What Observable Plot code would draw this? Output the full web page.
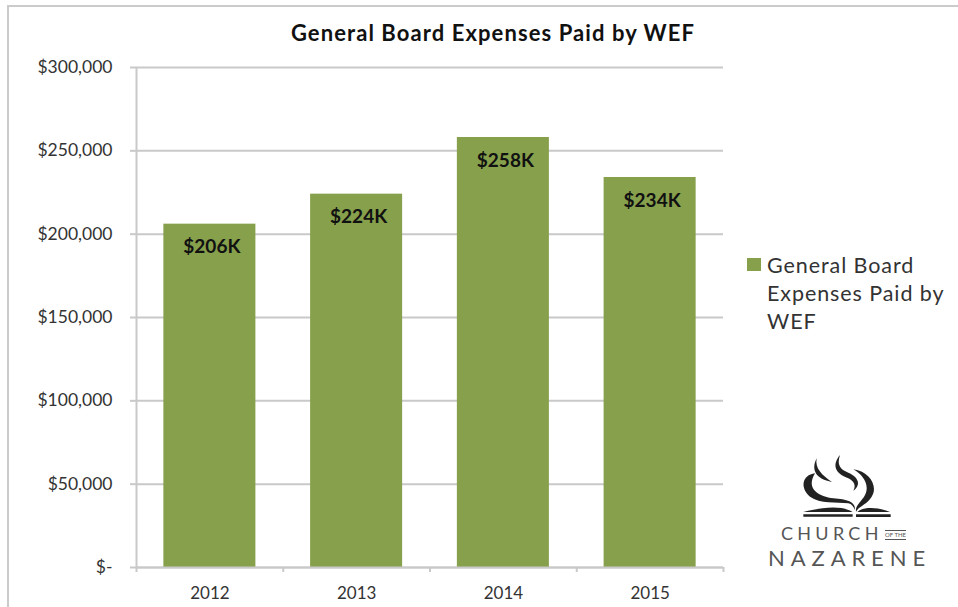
<!DOCTYPE html>
<html>
<head>
<meta charset="utf-8">
<script src="https://cdn.jsdelivr.net/npm/d3@7"></script>
<script src="https://cdn.jsdelivr.net/npm/@observablehq/plot@0.6"></script>
<style>
  html, body { margin: 0; padding: 0; background: #fff; }
  #page { position: relative; width: 958px; height: 607px; overflow: hidden; font-family: Lato, sans-serif; color: #333; }
  #frame { position: absolute; left: 7px; top: 5px; width: 960px; height: 620px; border: 2px solid #cbcbcb; box-sizing: border-box; }
  #title { position: relative; height: 50px; line-height: 66px; text-align: center; padding-left: 28px; font-weight: 700; font-size: 22px; letter-spacing: 1.08px; color: #111; box-sizing: border-box; }
  #chart { position: relative; }
  #chart svg { display: block; }
  #legend { position: absolute; left: 747px; top: 251px; width: 200px; }
  #legend .sw { position: absolute; left: 0; top: 7px; width: 14px; height: 13px; background: #86a04c; }
  #legend .tx { position: absolute; left: 20px; top: 0; font-size: 21.5px; line-height: 28px; letter-spacing: .92px; white-space: nowrap; }
  #logo { position: absolute; left: 720px; top: 430px; width: 238px; height: 177px; }
  #logo svg { position: absolute; left: 0; top: 0; }
  .l1 { position: absolute; left: 61px; top: 94px; font-size: 18px; line-height: 18px; letter-spacing: 4.3px; color: #555; white-space: nowrap; }
  .l0 { position: absolute; left: 165px; top: 100px; font-size: 6px; line-height: 8px; color: #555; white-space: nowrap; border-bottom: 1px solid #555; border-top: 1px solid #555; }
  .l2 { position: absolute; left: 48px; top: 116px; font-size: 22px; line-height: 24px; letter-spacing: 5.9px; color: #555; white-space: nowrap; }
</style>
</head>
<body>
<div id="page">
  <div id="frame"></div>
  <div id="title"></div>
  <div id="chart"></div>
  <div id="legend"><div class="sw"></div><div class="tx"></div></div>
  <div id="logo">
    <svg width="238" height="177" viewBox="0 0 714 531">
      <g fill="#222">
        <path d="M290 85C272 120 288 148 336 156C306 136 284 115 290 85Z"/>
        <path d="M360 75C335 105 345 130 385 145C400 153 410 165 400 182C425 165 415 140 385 128C360 118 350 105 360 75Z"/>
        <path d="M285 130C245 135 240 175 270 200C300 222 350 215 385 220C395 222 400 230 405 240C407 215 380 208 340 205C300 200 255 180 285 130Z"/>
        <path d="M400 118C450 125 475 170 455 200C440 225 420 225 408 245C405 225 425 215 435 195C450 165 430 135 400 118Z"/>
        <path d="M250 246C290 236 360 222 398 246Z"/>
        <path d="M412 246C430 228 480 232 510 246Z"/>
        <path d="M250 253H398V260H250Z"/>
        <path d="M408 253H512V261H408Z"/>
      </g>
    </svg>
    <div class="l1">CHURCH</div>
    <div class="l0">OF THE</div>
    <div class="l2">NAZARENE</div>
  </div>
</div>
<script>
const titleText = "General Board Expenses Paid by WEF";
const legendLines = ["General Board", "Expenses Paid by", "WEF"];
const years = ["2012", "2013", "2014", "2015"];
const expenses = [206000, 224000, 258000, 234000];
const labels = ["$206K", "$224K", "$258K", "$234K"];
const yTicks = [0, 50000, 100000, 150000, 200000, 250000, 300000];

document.getElementById("title").textContent = titleText;
document.querySelector("#legend .tx").innerHTML = legendLines.join("<br>");

const rows = years.map((year, i) => ({year, value: expenses[i], label: labels[i]}));
const grey = "#c9c9c9";
const W = 958, H = 557, mL = 136, mR = 235, mT = 17, mB = 40;
const halfStep = (W - mL - mR) / years.length / 2;
const fmt = d3.format("$,");

const chart = Plot.plot({
  width: W,
  height: H,
  marginLeft: mL,
  marginRight: mR,
  marginTop: mT,
  marginBottom: mB,
  style: {background: "transparent", fontFamily: "Lato, sans-serif", overflow: "visible"},
  x: {domain: years, paddingInner: 0.373, paddingOuter: 0.1865, round: false, label: null},
  y: {domain: [0, 300000], label: null},
  marks: [
    Plot.gridY(yTicks, {stroke: grey, strokeOpacity: 1, strokeWidth: 2}),
    Plot.axisY(yTicks, {
      tickSize: 6, stroke: grey, strokeWidth: 2, tickPadding: 18,
      tickFormat: d => d === 0 ? "$-" : fmt(d),
      fontSize: 17.5, fill: "#333", label: null
    }),
    Plot.axisX({tickSize: 0, tickPadding: 19, fontSize: 17, fill: "#333", label: null}),
    Plot.barY(rows, {x: "year", y: "value", fill: "#86a04c"}),
    Plot.ruleY([0], {stroke: grey, strokeWidth: 2}),
    Plot.ruleX(years.slice(0, 1), {x: d => d, y1: 0, y2: 300000, dx: -halfStep, stroke: grey, strokeWidth: 2}),
    Plot.ruleX(years, {x: d => d, y1: 0, y2: -3000, dx: -halfStep, stroke: grey, strokeWidth: 2, clip: false}),
    Plot.ruleX(years.slice(-1), {x: d => d, y1: 0, y2: -3000, dx: halfStep, stroke: grey, strokeWidth: 2, clip: false}),
    Plot.text(rows, {x: "year", y: "value", text: "label", dx: 2, dy: 23, fontSize: 19, fontWeight: 700, fill: "#111"})
  ]
});
document.getElementById("chart").appendChild(chart);
</script>
</body>
</html>
